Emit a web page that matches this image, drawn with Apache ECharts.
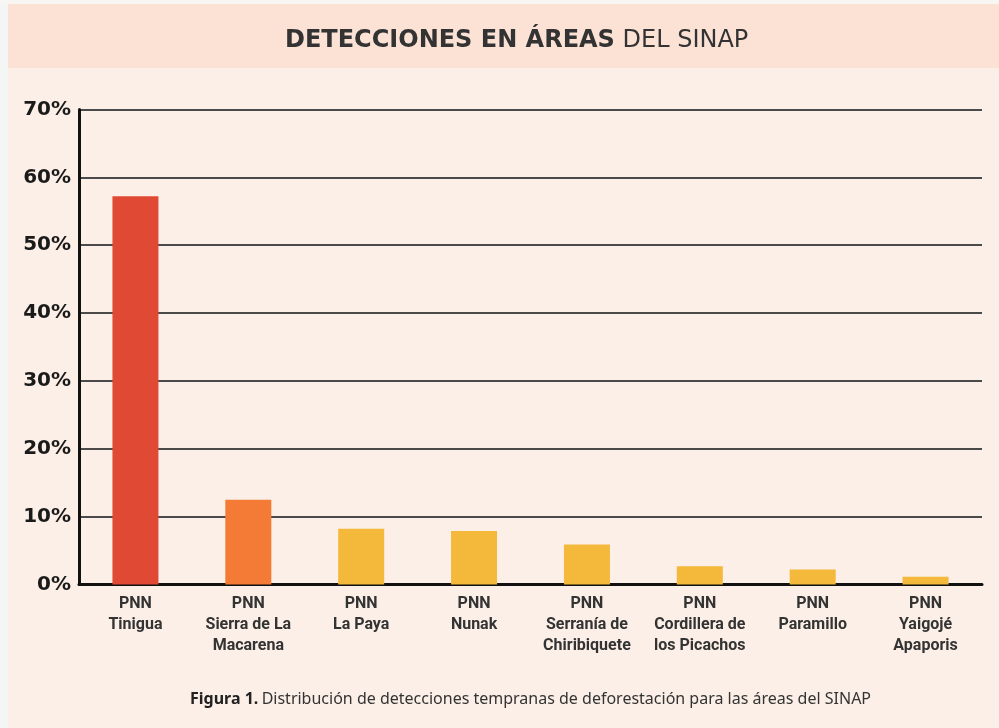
<!DOCTYPE html>
<html>
<head>
    <meta charset="UTF-8">
    <title>Detecciones en áreas del SINAP</title>
    <script src="https://cdn.jsdelivr.net/npm/echarts@6/dist/echarts.min.js"></script>
    <style>
        html, body {
            margin: 0;
            padding: 0;
            background: #f4f5f5;
        }
        #main {
            width: 999px;
            height: 728px;
        }
    </style>
</head>
<body>
<div id="main"></div>
<script type="text/javascript">
    // datos
    var parques = ['PNN\nTinigua', 'PNN\nSierra de La\nMacarena', 'PNN\nLa Paya', 'PNN\nNunak',
        'PNN\nSerranía de\nChiribiquete', 'PNN\nCordillera de\nlos Picachos', 'PNN\nParamillo', 'PNN\nYaigojé\nApaporis'];
    var porcentajes = [57.2, 12.5, 8.2, 7.9, 5.9, 2.7, 2.2, 1.15];
    var colores = ['#e04a35', '#f47b35', '#f4b93a', '#f4b93a', '#f4b93a', '#f4b93a', '#f4b93a', '#f4b93a'];
    var ticksY = [0, 10, 20, 30, 40, 50, 60, 70];

    var myChart = echarts.init(document.getElementById('main'));

    var datos = porcentajes.map(function (v, i) {
        return {value: v, itemStyle: {color: colores[i]}};
    });

    var option = {
        backgroundColor: '#fbefe7',
        animation: false,
        graphic: [
            {type: 'rect', left: 0, top: 0, shape: {width: 8, height: 728}, style: {fill: '#f4f5f5'}, z: -1},
            {type: 'rect', left: 0, top: 0, shape: {width: 999, height: 4}, style: {fill: '#f7f6f2'}, z: -1},
            {type: 'rect', left: 8, top: 4, shape: {width: 991, height: 64}, style: {fill: '#fbe2d5'}, z: -1},
            {
                type: 'text', left: 285, top: 29,
                style: {
                    text: '{b|DETECCIONES EN ÁREAS}{r| DEL SINAP}',
                    rich: {
                        b: {fontFamily: 'DejaVu Sans', fontWeight: 'bold', fontSize: 24, fill: '#333333'},
                        r: {fontFamily: 'DejaVu Sans', fontSize: 24, fill: '#333333'}
                    }
                }
            },
            {
                type: 'text', left: 190, top: 691,
                style: {
                    text: '{b|Figura 1.} {r|Distribución de detecciones tempranas de deforestación para las áreas del SINAP}',
                    rich: {
                        b: {fontFamily: 'Noto Sans', fontWeight: 'bold', fontSize: 16, fill: '#222222'},
                        r: {fontFamily: 'Noto Sans', fontSize: 16, fill: '#333333'}
                    }
                }
            }
        ],
        grid: {
            left: 79,
            right: 17,
            top: 109.5,
            bottom: 143.5
        },
        xAxis: {
            type: 'category',
            data: parques,
            axisLine: {lineStyle: {color: '#111111', width: 3}},
            axisTick: {show: false},
            axisLabel: {
                interval: 0,
                margin: 9,
                color: '#333333',
                fontFamily: 'Liberation Sans Narrow, Roboto',
                fontWeight: 'bold',
                fontSize: 16,
                lineHeight: 21
            }
        },
        yAxis: {
            type: 'value',
            min: 0,
            max: 70,
            interval: 10,
            axisLine: {show: true, lineStyle: {color: '#111111', width: 3}},
            axisTick: {show: false},
            axisLabel: {
                margin: 8,
                formatter: function (v) {
                    return ticksY.indexOf(v) >= 0 ? v + '%' : '';
                },
                color: '#1a1a1a',
                fontFamily: 'DejaVu Sans',
                fontWeight: 'bold',
                fontSize: 20
            },
            splitLine: {lineStyle: {color: '#4a4a4a', width: 2}}
        },
        series: [
            {
                type: 'bar',
                data: datos,
                barWidth: 46
            }
        ]
    };
    myChart.setOption(option);
</script>
</body>
</html>
